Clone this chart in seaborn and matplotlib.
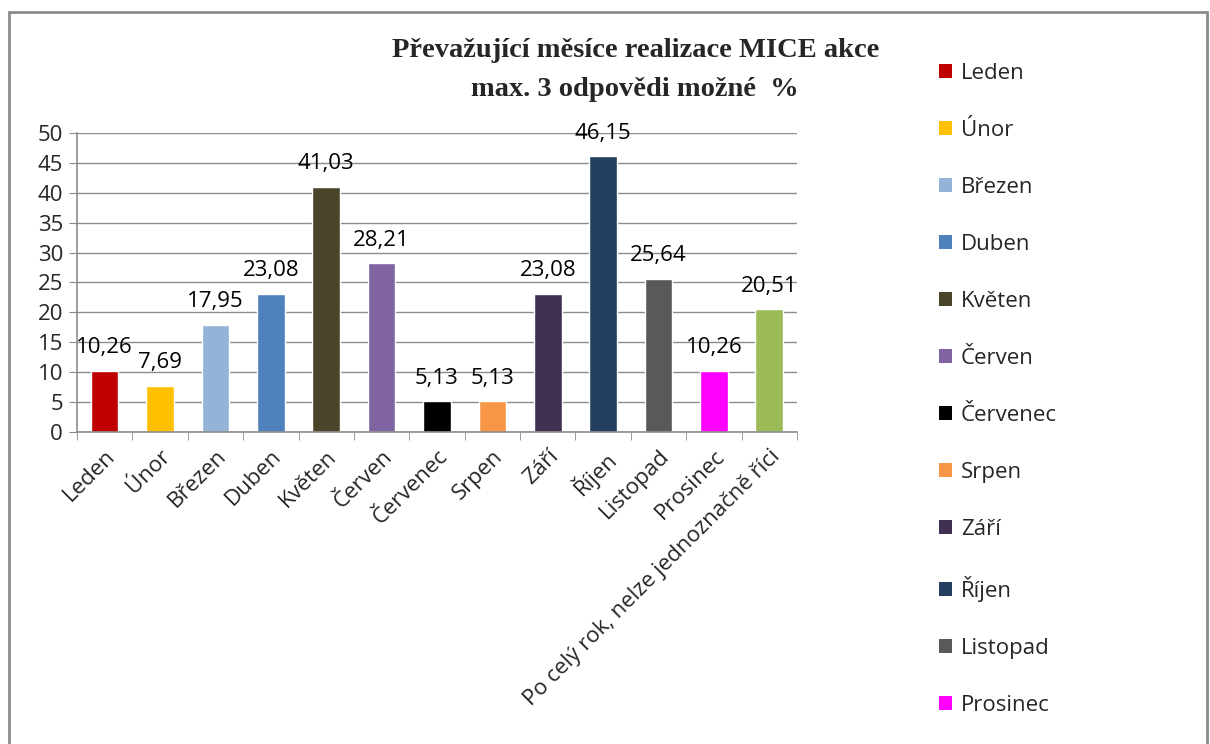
import numpy as np
import pandas as pd
import matplotlib
matplotlib.use("Agg")
import matplotlib.pyplot as plt
import seaborn as sns
from matplotlib.patches import Patch, Rectangle

# Data
categories = ['Leden', 'Únor', 'Březen', 'Duben', 'Květen', 'Červen', 'Červenec',
              'Srpen', 'Září', 'Říjen', 'Listopad', 'Prosinec',
              'Po celý rok, nelze jednoznačně říci']
values = [10.26, 7.69, 17.95, 23.08, 41.03, 28.21, 5.13, 5.13, 23.08, 46.15, 25.64, 10.26, 20.51]
colors = ['#C00000', '#FFC000', '#95B3D7', '#4F81BD', '#4A452A', '#8064A2', '#000000',
          '#F79646', '#403152', '#243F60', '#595959', '#FF00FF', '#9BBB59']
title = 'Převažující měsíce realizace MICE akce\nmax. 3 odpovědi možné  %'

df = pd.DataFrame({'mesic': categories, 'procento': values})

sns.set_style("white")
plt.rcParams['font.family'] = ['Open Sans', 'DejaVu Sans']

fig = plt.figure(figsize=(12.1, 7.44), dpi=100)
ax = fig.add_axes([0.0636, 0.4194, 0.5951, 0.4018])

sns.barplot(data=df, x='mesic', y='procento', hue='mesic', palette=colors,
            dodge=False, width=0.5, legend=False, ax=ax, saturation=1)

# data labels above the bars
for i, v in enumerate(values):
    ax.annotate(f"{v:.2f}".replace('.', ','), (i, v), xytext=(0, 9), textcoords='offset points',
                ha='center', va='bottom', fontsize=16, color='#000000')

ax.set_ylim(0, 50)
ax.set_xlim(-0.5, len(categories) - 0.5)
ax.set_yticks(np.arange(0, 51, 5))
ax.yaxis.grid(True, color='#8c8c8c', linewidth=1)
ax.set_axisbelow(True)
ax.set_xlabel('')
ax.set_ylabel('')

for s in ['top', 'right']:
    ax.spines[s].set_visible(False)
for s in ['left', 'bottom']:
    ax.spines[s].set_color('#8c8c8c')
    ax.spines[s].set_linewidth(1.2)

ax.tick_params(axis='y', length=6, color='#8c8c8c', labelsize=16, pad=4, left=True)
ax.set_xticks(np.arange(len(categories)))
ax.set_xticklabels(categories, rotation=45, ha='right', rotation_mode='anchor', fontsize=16)
ax.tick_params(axis='x', which='major', length=0, pad=10)
ax.set_xticks(np.arange(-0.5, len(categories)), minor=True)
ax.tick_params(axis='x', which='minor', length=6, color='#8c8c8c', bottom=True)

# title
fig.text(0.525, 0.906, title, ha='center', va='center', fontsize=20.5, fontweight='bold',
         family='Liberation Serif', linespacing=1.7)

# legend (last entry falls below the chart edge, as in the original)
handles = [Patch(facecolor=c, edgecolor='none') for c in colors]
fig.legend(handles, categories, loc='upper left', bbox_to_anchor=(0.7665, 0.93),
           frameon=False, fontsize=16, handlelength=0.6, handleheight=0.6,
           handletextpad=0.4, labelspacing=1.62, borderpad=0)

# outer chart frame
fig.patches.append(Rectangle((0.0074, -0.1), 0.99, 1.084, transform=fig.transFigure,
                             fill=False, edgecolor='#8c8c8c', linewidth=2))

fig.savefig("out.png", dpi=100)
